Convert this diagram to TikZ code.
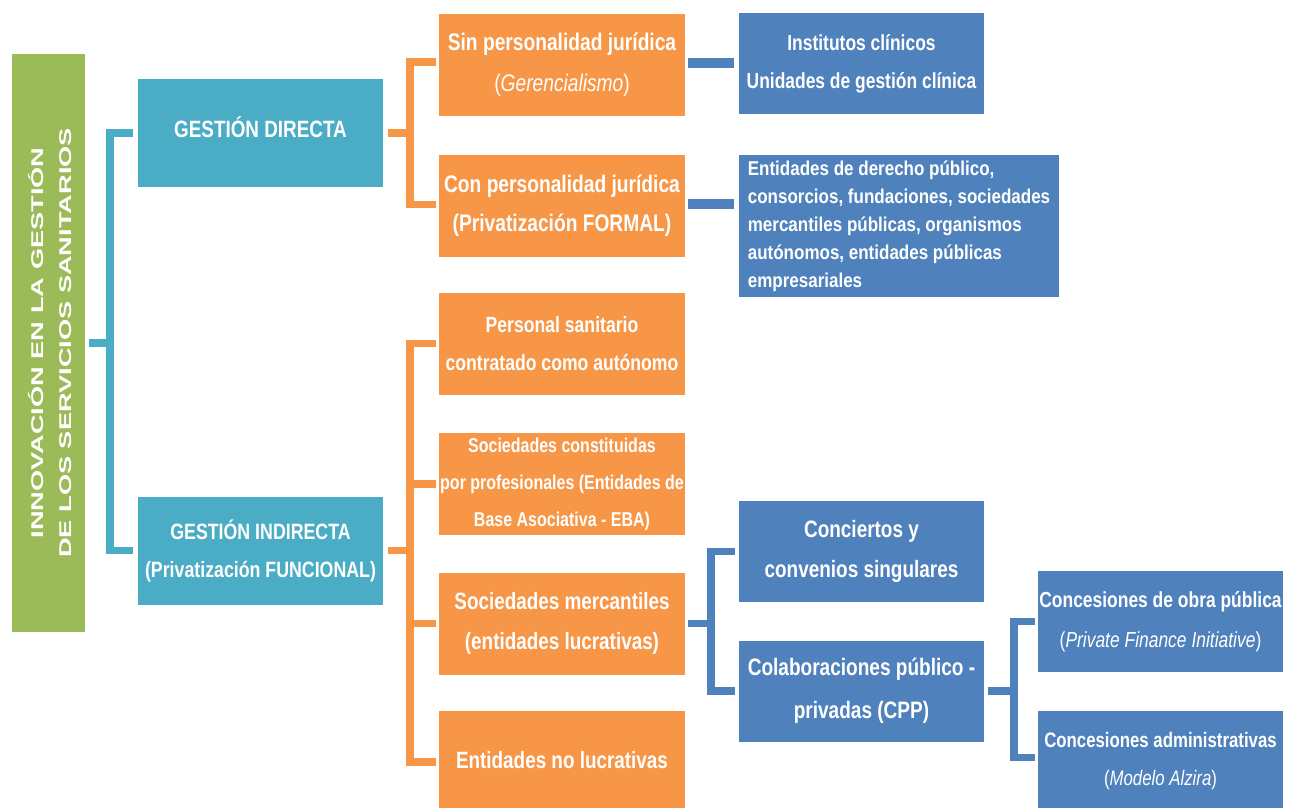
\documentclass[tikz,border=0pt]{standalone}
\usepackage{fontspec}
\usetikzlibrary{calc}
\newfontfamily\nf[FakeStretch=0.8]{Liberation Sans}
\newfontfamily\nfw[FakeStretch=0.85]{Liberation Sans}
\newfontfamily\gf[FakeStretch=1.6]{Liberation Sans}
\definecolor{cgreen}{HTML}{9BBB59}
\definecolor{cteal}{HTML}{4BACC6}
\definecolor{corange}{HTML}{F79646}
\definecolor{cblue}{HTML}{4F81BD}
\newcommand{\fs}[2]{\fontsize{#1}{#2}\selectfont}
\tikzset{
  boxbase/.style={inner sep=0pt, text=white, align=center, font=\nf\bfseries},
  tealbox/.style={boxbase, fill=cteal, minimum width=245pt, minimum height=108pt},
  orbox/.style={boxbase, fill=corange, minimum width=246pt, minimum height=102pt},
  blbox/.style={boxbase, fill=cblue, minimum width=245pt, minimum height=101pt},
  tealln/.style={draw=cteal, line width=7.5pt, line join=miter},
  orln/.style={draw=corange, line width=7.5pt, line join=miter},
  blln/.style={draw=cblue, line width=7.5pt, line join=miter},
  blbar/.style={draw=cblue, line width=10pt},
}
\begin{document}
\begin{tikzpicture}[x=1pt,y=-1pt]
\clip (0,0) rectangle (1299,808);
\fill[white] (0,0) rectangle (1299,808);

% root
\node[boxbase, fill=cgreen, minimum width=73pt, minimum height=578pt] (green) at (48.5,343) {};
\node[text=white, align=center, rotate=90, inner sep=0pt, font=\gf\bfseries\fs{17}{28}] (greentext) at ($(green.center)+(2,0)$)
  {INNOVACIÓN EN LA GESTIÓN\\DE LOS SERVICIOS SANITARIOS};

% level 1
\node[tealbox, font=\nf\bfseries\fs{23.6}{38}] (gd) at (260.5,133) {\raisebox{12pt}{GESTIÓN DIRECTA}};
\node[tealbox, font=\nf\bfseries\fs{22.2}{38}] (gi) at (260.5,550.5) {GESTIÓN INDIRECTA\\(Privatización FUNCIONAL)};

% level 2 (orange)
\node[orbox, font=\nf\bfseries\fs{24}{41}] (o1) at (562,65) {Sin personalidad jurídica\\{\mdseries(\textit{Gerencialismo})}};
\node[orbox, font=\nf\bfseries\fs{24}{39}] (o2) at (562,205.5) {Con personalidad jurídica\\(Privatización FORMAL)};
\node[orbox, font=\nf\bfseries\fs{22}{38}] (o3) at (562,343.5) {Personal sanitario\\contratado como autónomo};
\node[orbox, font=\nf\bfseries\fs{20}{37}] (o4) at (562,484) {Sociedades constituidas\\por profesionales (Entidades de\\Base Asociativa - EBA)};
\node[orbox, font=\nf\bfseries\fs{23.6}{40}] (o5) at (562,623.5) {Sociedades mercantiles\\(entidades lucrativas)};
\node[orbox, font=\nf\bfseries\fs{23.6}{40}] (o6) at (562,762) {\raisebox{4pt}{Entidades no lucrativas}};

% level 3 (blue)
\node[blbox, font=\nf\bfseries\fs{21.8}{38}] (b1) at (861.5,63.5) {Institutos clínicos\\Unidades de gestión clínica};
\node[blbox, minimum width=320pt, minimum height=142pt, align=left, font=\nfw\bfseries\fs{20}{28}] (b2) at (899,226)
  {Entidades de derecho público,\\consorcios, fundaciones, sociedades\\mercantiles públicas, organismos\\autónomos, entidades públicas\\empresariales};
\node[blbox, font=\nf\bfseries\fs{23.7}{40}] (b3) at (861.5,551.5) {Conciertos y\\convenios singulares};
\node[blbox, font=\nf\bfseries\fs{23.8}{43}] (b4) at (861.5,691) {Colaboraciones público -\\privadas (CPP)};

% level 4
\node[blbox, font=\nf\bfseries\fs{21.8}{40}] (c1) at (1160.5,621.5) {Concesiones de obra pública\\{\mdseries(\textit{Private Finance Initiative})}};
\node[blbox, font=\nf\bfseries\fs{21}{38}] (c2) at (1160.5,761.5) {Concesiones administrativas\\{\mdseries(\textit{Modelo Alzira})}};

% teal bracket
\coordinate (tv) at (110,343);
\draw[tealln] ($(gd.west)+(-5,0)$) -| (tv) |- ($(gi.west)+(-5,0)$);
\draw[tealln] ($(green.east)+(4,0)$) -- (tv);

% orange bracket (directa)
\coordinate (ov1) at (410,133);
\draw[orln] ($(o1.west)+(-3,-3)$) -| (ov1) |- ($(o2.west)+(-3,-1)$);
\draw[orln] ($(gd.east)+(5,0)$) -- (ov1);

% orange bracket (indirecta)
\coordinate (ov2) at (410,550.5);
\draw[orln] ($(o3.west)+(-3,0)$) -| (ov2) |- ($(o6.west)+(-3,0)$);
\draw[orln] ($(gi.east)+(5,0)$) -- (ov2);
\draw[orln] ($(o4.west)+(-3,0)$) -- (o4.west -| ov2);
\draw[orln] ($(o5.west)+(-3,0)$) -- (o5.west -| ov2);

% blue bars
\draw[blbar] ($(o1.east)+(3,-2)$) -- ($(o1.east -| b1.west)+(-5,-2)$);
\draw[blbar] ($(o2.east)+(3,-2)$) -- ($(o2.east -| b2.west)+(-5,-2)$);

% blue bracket (mercantiles)
\coordinate (bv1) at (711,623.5);
\draw[blln] ($(b3.west)+(-4,0)$) -| (bv1) |- ($(b4.west)+(-4,0)$);
\draw[blln] ($(o5.east)+(3,0)$) -- (bv1);

% blue bracket (CPP)
\coordinate (bv2) at (1014,691);
\draw[blln] ($(c1.west)+(-3,0)$) -| (bv2) |- ($(c2.west)+(-3,-4)$);
\draw[blln] ($(b4.east)+(4,0)$) -- (bv2);
\end{tikzpicture}
\end{document}
